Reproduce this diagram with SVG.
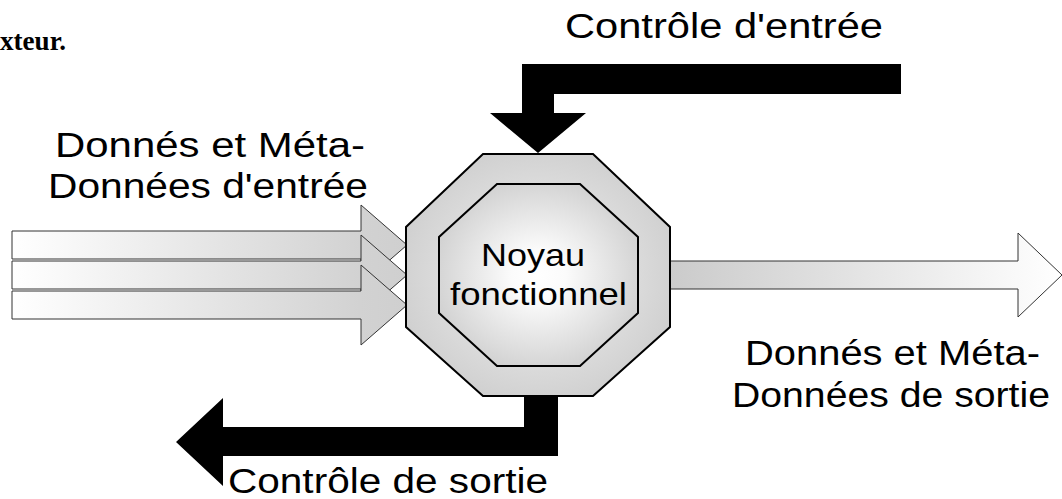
<svg xmlns="http://www.w3.org/2000/svg" width="1062" height="499" viewBox="0 0 1062 499">
<defs>
<linearGradient id="gIn" x1="0" y1="0" x2="1" y2="0">
<stop offset="0" stop-color="#ffffff"/>
<stop offset="0.88" stop-color="#d2d2d2"/>
<stop offset="1" stop-color="#cfcfcf"/>
</linearGradient>
<linearGradient id="gOut" x1="0" y1="0" x2="1" y2="0">
<stop offset="0" stop-color="#cbcbcb"/>
<stop offset="1" stop-color="#ffffff"/>
</linearGradient>
<radialGradient id="gOuter" cx="0.5" cy="0.5" r="0.55">
<stop offset="0" stop-color="#f4f4f4"/>
<stop offset="1" stop-color="#cfcfcf"/>
</radialGradient>
<radialGradient id="gInner" cx="0.5" cy="0.5" r="0.55">
<stop offset="0" stop-color="#ffffff"/>
<stop offset="0.25" stop-color="#fbfbfb"/>
<stop offset="1" stop-color="#d0d0d0"/>
</radialGradient>
</defs>
<style>
.lbl{font-family:"Liberation Sans",Arial,sans-serif;font-size:35px;fill:#000}
.core{font-family:"Liberation Sans",Arial,sans-serif;font-size:32px;fill:#000}
.inArrow{fill:url(#gIn);stroke:#333;stroke-width:1}
.ctrl{fill:#000;stroke:none}
</style>
<text x="0" y="50" textLength="66" lengthAdjust="spacingAndGlyphs" style="font-family:'Liberation Serif','Times New Roman',serif;font-weight:bold;font-size:28px">xteur.</text>
<g id="connectors">
<g id="input-data">
<polygon class="inArrow" points="12,231 361,231 361,205 407,245 361,285 361,259 12,259"/>
<polygon class="inArrow" points="12,261 361,261 361,235 407,275 361,315 361,289 12,289"/>
<polygon class="inArrow" points="12,291 361,291 361,265 407,305 361,345 361,319 12,319"/>
</g>
<polygon id="output-data" fill="url(#gOut)" stroke="#333" stroke-width="1" points="670,261 1018,261 1018,233 1062,275 1018,317 1018,289 670,289"/>
<polygon id="control-in" class="ctrl" points="901,64 522,64 522,113 490,113 538,153 586,113 554,113 554,94 901,94"/>
<polygon id="control-out" class="ctrl" points="524,396 558,396 558,456 223,456 223,486 176,442 223,398 223,427 524,427"/>
</g>
<g id="core">
<polygon fill="url(#gOuter)" stroke="#000" stroke-width="2" points="483,154 593,154 670,227 670,327 593,396 483,396 406,327 406,227"/>
<polygon fill="url(#gInner)" stroke="#000" stroke-width="2" points="497,184 580,184 638,237 638,313 580,366 497,366 439,313 439,237"/>
<text class="core" x="481" y="266" textLength="104" lengthAdjust="spacingAndGlyphs">Noyau</text>
<text class="core" x="450" y="305" textLength="177" lengthAdjust="spacingAndGlyphs">fonctionnel</text>
</g>
<g id="labels">
<text class="lbl" x="565" y="38" textLength="318" lengthAdjust="spacingAndGlyphs">Contrôle d'entrée</text>
<text class="lbl" x="55" y="157" textLength="310" lengthAdjust="spacingAndGlyphs">Donnés et Méta-</text>
<text class="lbl" x="48" y="198" textLength="320" lengthAdjust="spacingAndGlyphs">Données d'entrée</text>
<text class="lbl" x="745" y="365" textLength="295" lengthAdjust="spacingAndGlyphs">Donnés et Méta-</text>
<text class="lbl" x="732" y="407" textLength="318" lengthAdjust="spacingAndGlyphs">Données de sortie</text>
<text class="lbl" x="228" y="493" textLength="320" lengthAdjust="spacingAndGlyphs">Contrôle de sortie</text>
</g>
</svg>
